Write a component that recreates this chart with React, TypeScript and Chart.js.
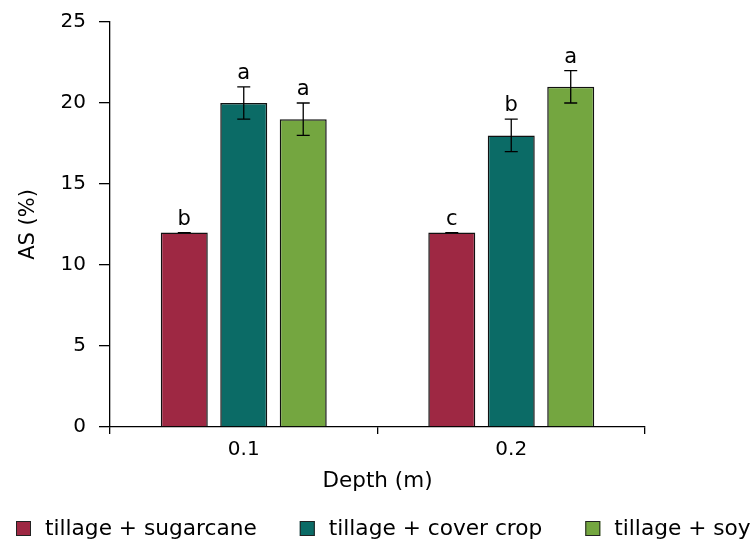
import React, { useEffect, useRef } from "react";
import { Chart, registerables } from "chart.js";

Chart.register(...registerables);

const categories = ["0.1", "0.2"];
const seriesNames = ["tillage + sugarcane", "tillage + cover crop", "tillage + soy"];
const seriesColors = ["#9E2843", "#0B6B66", "#74A640"];
const sugarcane = [12, 12];
const coverCrop = [20, 18];
const soybean = [19, 21];
const sugarcaneErr = [0, 0];
const coverCropErr = [1, 1];
const soybeanErr = [1, 1];
const sugarcaneLetters = ["b", "c"];
const coverCropLetters = ["a", "b"];
const soybeanLetters = ["a", "a"];
const yTicks = [0, 5, 10, 15, 20, 25];

const FONT = "'DejaVu Sans', sans-serif";

const errorBarPlugin = {
  id: "errorBars",
  afterDatasetsDraw(chart: any) {
    const ctx = chart.ctx;
    const yScale = chart.scales.y;
    chart.data.datasets.forEach((ds: any, di: number) => {
      const meta = chart.getDatasetMeta(di);
      meta.data.forEach((el: any, i: number) => {
        const v = ds.data[i];
        const e = ds.errors[i];
        const yTop = yScale.getPixelForValue(v + e);
        const yBot = yScale.getPixelForValue(v - e);
        const x = el.x;
        ctx.save();
        ctx.strokeStyle = "#000";
        ctx.lineWidth = 1.3;
        ctx.beginPath();
        ctx.moveTo(x, yTop);
        ctx.lineTo(x, yBot);
        ctx.moveTo(x - 6.5, yTop);
        ctx.lineTo(x + 6.5, yTop);
        ctx.moveTo(x - 6.5, yBot);
        ctx.lineTo(x + 6.5, yBot);
        ctx.stroke();
        ctx.fillStyle = "#000";
        ctx.font = "21px " + FONT;
        ctx.textAlign = "center";
        ctx.textBaseline = "alphabetic";
        ctx.fillText(ds.letters[i], x, yTop - 8);
        ctx.restore();
      });
    });
  },
};

const legendPlugin = {
  id: "customLegend",
  afterDraw(chart: any) {
    const ctx = chart.ctx;
    ctx.save();
    ctx.font = "21.7px " + FONT;
    ctx.textBaseline = "alphabetic";
    ctx.textAlign = "left";
    let x = 16;
    const boxY = 521;
    const box = 15;
    chart.data.datasets.forEach((ds: any) => {
      ctx.fillStyle = ds.backgroundColor;
      ctx.fillRect(x, boxY, box, box);
      ctx.strokeStyle = "#222";
      ctx.lineWidth = 1;
      ctx.strokeRect(x + 0.5, boxY + 0.5, box - 1, box - 1);
      ctx.fillStyle = "#000";
      const tx = x + box + 14;
      ctx.fillText(ds.label, tx, 535);
      x = tx + ctx.measureText(ds.label).width + 43;
    });
    ctx.restore();
  },
};

export default function App() {
  const ref = useRef<HTMLCanvasElement>(null);
  useEffect(() => {
    document.body.style.margin = "0";
    document.body.style.overflow = "hidden";
    const mk = (i: number, data: number[], errors: number[], letters: string[]) => ({
      label: seriesNames[i],
      data,
      errors,
      letters,
      backgroundColor: seriesColors[i],
      borderColor: "#111",
      borderWidth: 1.5,
      categoryPercentage: 0.667,
      barPercentage: 0.79,
    });
    const chart = new Chart(ref.current as HTMLCanvasElement, {
      type: "bar",
      data: {
        labels: categories,
        datasets: [
          mk(0, sugarcane, sugarcaneErr, sugarcaneLetters),
          mk(1, coverCrop, coverCropErr, coverCropLetters),
          mk(2, soybean, soybeanErr, soybeanLetters),
        ] as any,
      },
      options: {
        animation: false,
        responsive: false,
        layout: { padding: { left: 0, right: 111, top: 22, bottom: 46 } },
        plugins: { legend: { display: false }, tooltip: { enabled: false } },
        scales: {
          x: {
            afterFit: (s: any) => {
              s.height = 70;
            },
            grid: { display: true, drawOnChartArea: false, offset: true, tickLength: 7, color: "#000", lineWidth: 1.3 },
            border: { display: true, color: "#000", width: 1.3 },
            ticks: { color: "#000", font: { family: FONT, size: 20 }, padding: 4 },
            title: { display: true, text: "Depth (m)", color: "#000", font: { family: FONT, size: 21.5 }, padding: { top: 0, bottom: 3 } },
          },
          y: {
            min: 0,
            max: 25,
            afterFit: (s: any) => {
              s.width = 110;
              s.paddingTop = 0;
              s.paddingBottom = 0;
            },
            afterBuildTicks: (s: any) => {
              s.ticks = yTicks.map((v) => ({ value: v }));
            },
            grid: { display: true, drawOnChartArea: false, tickLength: 11, color: "#000", lineWidth: 1.3 },
            border: { display: true, color: "#000", width: 1.3 },
            ticks: { color: "#000", font: { family: FONT, size: 20 }, padding: 13 },
            title: { display: true, text: "AS (%)", color: "#000", font: { family: FONT, size: 21 }, padding: { top: 16, bottom: 0 } },
          },
        },
      },
      plugins: [errorBarPlugin, legendPlugin],
    });
    return () => chart.destroy();
  }, []);
  return <canvas ref={ref} width={756} height={543} style={{ display: "block", width: 756, height: 543 }} />;
}
